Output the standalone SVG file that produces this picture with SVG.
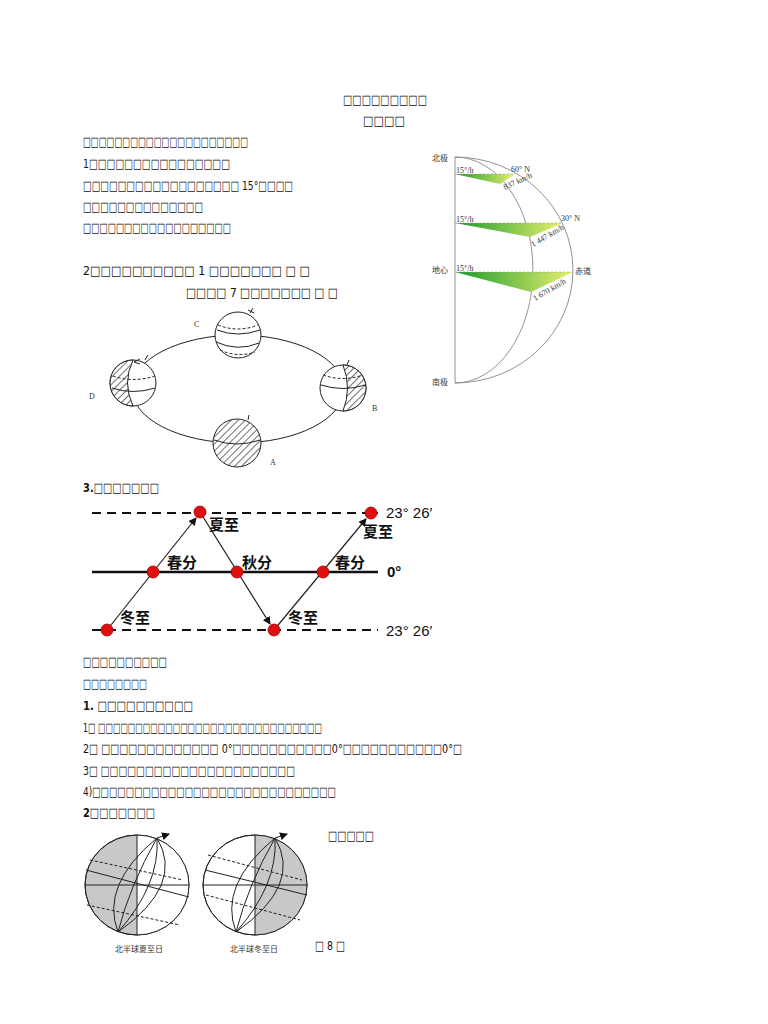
<svg xmlns="http://www.w3.org/2000/svg" width="768" height="1024" viewBox="0 0 768 1024">
<style>
.t{font-family:"DejaVu Sans","Liberation Serif",serif;font-size:13px;fill:#111}
.b{font-weight:bold}
.s{font-family:"Liberation Serif","Noto Sans CJK SC",serif;font-size:8px;fill:#333}
.c{font-family:"Noto Sans CJK SC",sans-serif;font-size:15px;font-weight:bold;fill:#111}
.d{font-family:"Liberation Sans",sans-serif;font-size:15px;fill:#111}
.l{stroke:#222;fill:none;stroke-width:1}
.g{stroke:#888;fill:none;stroke-width:0.9}
</style>
<defs>
<linearGradient id="gr" x1="0" x2="1"><stop offset="0" stop-color="#1a9a2a"/><stop offset="1" stop-color="#e8f070"/></linearGradient>
<marker id="ar" markerWidth="8" markerHeight="8" refX="7" refY="4" orient="auto" markerUnits="userSpaceOnUse"><path d="M0,0L8,4L0,8z" fill="#111"/></marker>
<pattern id="h" width="5" height="5" patternUnits="userSpaceOnUse" patternTransform="rotate(45)"><rect width="5" height="5" fill="#fff"/><line x1="0" y1="0" x2="0" y2="5" stroke="#222" stroke-width="1.3"/></pattern>
</defs>
<rect width="768" height="1024" fill="#fff"/>
<g id="text">
<text class="t" x="343" y="104" textLength="84" lengthAdjust="spacingAndGlyphs">□□□□□□□□□</text>
<text class="t" x="363" y="125" textLength="42" lengthAdjust="spacingAndGlyphs">□□□□</text>
<text class="t" x="83" y="146" textLength="165" lengthAdjust="spacingAndGlyphs">□□□□□□□□□□□□□□□□□□□□□</text>
<text class="t" x="83" y="168" textLength="147" lengthAdjust="spacingAndGlyphs">1□□□□□□□□□□□□□□□□</text>
<text class="t" x="83" y="190" textLength="210" lengthAdjust="spacingAndGlyphs">□□□□□□□□□□□□□□□□□□ 15°□□□□</text>
<text class="t" x="83" y="211" textLength="120" lengthAdjust="spacingAndGlyphs">□□□□□□□□□□□□□□</text>
<text class="t" x="83" y="232" textLength="148" lengthAdjust="spacingAndGlyphs">□□□□□□□□□□□□□□□□□□</text>
<text class="t" x="83" y="275" textLength="227" lengthAdjust="spacingAndGlyphs">2□□□□□□□□□□ 1   □□□□□□□ □  □</text>
<text class="t" x="186" y="297" textLength="152" lengthAdjust="spacingAndGlyphs">□□□□ 7   □□□□□□□ □ □</text>
<text class="t b" x="83" y="492" textLength="76" lengthAdjust="spacingAndGlyphs">3.□□□□□□□</text>
<text class="t" x="83" y="666" textLength="84" lengthAdjust="spacingAndGlyphs">□□□□□□□□□□</text>
<text class="t" x="83" y="688" textLength="64" lengthAdjust="spacingAndGlyphs">□□□□□□□□</text>
<text class="t b" x="83" y="710" textLength="110" lengthAdjust="spacingAndGlyphs">1.    □□□□□□□□□□</text>
<text class="t" x="83" y="732" textLength="239" lengthAdjust="spacingAndGlyphs">1□  □□□□□□□□□□□□□□□□□□□□□□□□□□□□□□</text>
<text class="t" x="83" y="753" textLength="379" lengthAdjust="spacingAndGlyphs">2□  □□□□□□□□□□□□□ 0°□□□□□□□□□□□0°□□□□□□□□□□□0°□</text>
<text class="t" x="83" y="775" textLength="212" lengthAdjust="spacingAndGlyphs">3□  □□□□□□□□□□□□□□□□□□□□□□</text>
<text class="t" x="83" y="796" textLength="253" lengthAdjust="spacingAndGlyphs">4)□□□□□□□□□□□□□□□□□□□□□□□□□□□□□</text>
<text class="t b" x="83" y="817" textLength="72" lengthAdjust="spacingAndGlyphs">2□□□□□□□</text>
<text class="t" x="328" y="840" textLength="46" lengthAdjust="spacingAndGlyphs">□□□□□</text>
<text class="t" x="315" y="950" textLength="30" lengthAdjust="spacingAndGlyphs">□ 8 □</text>
</g>
<g id="rotation">
<line x1="455" y1="157" x2="455" y2="383" class="g"/>
<path d="M455,157 A118,113 0 0 1 455,383" class="g"/>
<path d="M455,157 A78,113 0 0 1 455,383" class="g"/>
<path d="M455,174 L515,174 L500,184 Z" fill="url(#gr)"/>
<path d="M455,223 L563,223 L530,237 Z" fill="url(#gr)"/>
<path d="M455,272 L573,272 L531,292 Z" fill="url(#gr)"/>
<g stroke="#999" stroke-dasharray="2,2" stroke-width="0.6"><line x1="455" y1="174" x2="515" y2="174"/><line x1="455" y1="223" x2="563" y2="223"/><line x1="455" y1="272" x2="573" y2="272"/></g>
<text class="s" x="432" y="161">北极</text><text class="s" x="432" y="273">地心</text><text class="s" x="432" y="385">南极</text>
<text class="s" x="456" y="173">15°/h</text><text class="s" x="456" y="222">15°/h</text><text class="s" x="456" y="271">15°/h</text>
<text class="s" x="511" y="172">60° N</text><text class="s" x="561" y="221">30°  N</text><text class="s" x="575" y="274">赤道</text>
<text class="s" x="505" y="190" font-size="6" transform="rotate(-25 505 190)">837 km/h</text>
<text class="s" x="533" y="247" font-size="6" transform="rotate(-30 533 247)">1 447 km/h</text>
<text class="s" x="535" y="301" font-size="6" transform="rotate(-30 535 301)">1 670 km/h</text>
</g>
<g id="orbit">
<ellipse cx="238" cy="389" rx="106" ry="54" class="l"/>
<g id="C"><circle cx="238" cy="335" r="23" fill="#fff" stroke="#222"/><path d="M217,330 Q238,338 260,330 M216,342 Q238,352 259,343" class="l"/><path d="M218,325 Q238,333 258,325 M220,350 Q238,358 255,352" class="l" stroke-dasharray="3,2"/><text class="s" x="194" y="327" font-size="11">C</text><path d="M250,313 l3,-5 M248,310 l6,3" class="l"/></g>
<g id="D"><circle cx="133" cy="383" r="23" fill="#fff" stroke="#222"/><path d="M133,360 Q122,383 133,406 A23,23 0 0 1 133,360Z" fill="url(#h)" stroke="#222"/><path d="M112,388 Q133,395 155,388" class="l"/><path d="M113,376 Q133,383 155,376" class="l" stroke-dasharray="3,2"/><text class="s" x="89" y="399" font-size="11">D</text><path d="M145,360 l3,-5" class="l"/></g>
<g id="B"><circle cx="343" cy="388" r="23" fill="#fff" stroke="#222"/><path d="M343,365 Q352,388 343,411 A23,23 0 0 0 343,365Z" fill="url(#h)" stroke="#222"/><path d="M321,385 Q343,392 365,385" class="l"/><path d="M323,375 Q343,382 363,375" class="l" stroke-dasharray="3,2"/><text class="s" x="372" y="411" font-size="11">B</text><path d="M347,365 l2,-5" class="l"/></g>
<g id="A"><circle cx="237" cy="443" r="24" fill="url(#h)" stroke="#222"/><path d="M214,440 Q237,448 260,440" class="l"/><text class="s" x="270" y="465" font-size="11">A</text><path d="M248,420 l1,-5" class="l"/></g>
<path d="M140,359 l-6,3 l6,2" class="l"/>
</g>
<g id="sun">
<g stroke="#111" stroke-width="2" stroke-dasharray="9,6"><line x1="92" y1="513" x2="378" y2="513"/><line x1="92" y1="630" x2="378" y2="630"/></g>
<line x1="92" y1="572" x2="378" y2="572" stroke="#111" stroke-width="2.5"/>
<g stroke="#222" stroke-width="1.2" marker-end="url(#ar)"><line x1="107" y1="630" x2="196" y2="518"/><line x1="200" y1="512" x2="270" y2="624"/><line x1="274" y1="630" x2="366" y2="519"/></g>
<g fill="#e01010" stroke="#900" stroke-width="0.8"><circle cx="107" cy="630" r="6"/><circle cx="200" cy="512" r="6"/><circle cx="153" cy="572" r="6"/><circle cx="237" cy="572" r="6"/><circle cx="274" cy="630" r="6"/><circle cx="323" cy="572" r="6"/><circle cx="371" cy="513" r="6"/></g>
<text class="c" x="209" y="530">夏至</text><text class="c" x="167" y="568">春分</text><text class="c" x="242" y="568">秋分</text><text class="c" x="120" y="623">冬至</text><text class="c" x="288" y="623">冬至</text><text class="c" x="335" y="568">春分</text><text class="c" x="363" y="537">夏至</text>
<text class="d" x="386" y="518">23°  26′</text><text class="d" x="386" y="636">23°  26′</text><text class="d b" x="387" y="577" font-size="11">0°</text>
</g>
<g id="globes">
<g id="g1">
<ellipse cx="137" cy="885" rx="52" ry="50" fill="#c8c8c8" stroke="#333"/>
<path d="M137,835 A52,50 0 0 1 137,935 Z" fill="#fff"/>
<ellipse cx="137" cy="885" rx="52" ry="50" class="l"/>
<line x1="137" y1="835" x2="137" y2="935" class="l"/><line x1="85" y1="885" x2="189" y2="885" class="l"/>
<path d="M157,838 Q130,885 118,932 M157,838 Q160,885 118,932 M157,838 Q185,885 118,932 M157,838 Q100,885 118,932" class="l" stroke-width="0.8"/>
<path d="M90,860 L183,880 M87,905 L180,925" class="l" stroke-dasharray="3,2"/><path d="M86,870 L189,897" class="l"/>
<path d="M157,838 l12,-4" class="l" marker-end="url(#ar)"/>
<text class="s" x="115" y="952" font-size="7">北半球夏至日</text>
</g>
<g id="g2">
<ellipse cx="255" cy="885" rx="52" ry="50" fill="#fff" stroke="#333"/>
<path d="M255,835 A52,50 0 0 1 255,935 Z" fill="#c8c8c8"/>
<ellipse cx="255" cy="885" rx="52" ry="50" class="l"/>
<line x1="255" y1="835" x2="255" y2="935" class="l"/><line x1="203" y1="885" x2="307" y2="885" class="l"/>
<path d="M275,838 Q248,885 236,932 M275,838 Q278,885 236,932 M275,838 Q303,885 236,932 M275,838 Q218,885 236,932" class="l" stroke-width="0.8"/>
<path d="M208,855 L302,880 M206,895 L300,920" class="l" stroke-dasharray="3,2"/><path d="M205,870 L307,895" class="l"/>
<path d="M275,838 l12,-4" class="l" marker-end="url(#ar)"/>
<text class="s" x="230" y="952" font-size="7">北半球冬至日</text>
</g>
</g>
</svg>
